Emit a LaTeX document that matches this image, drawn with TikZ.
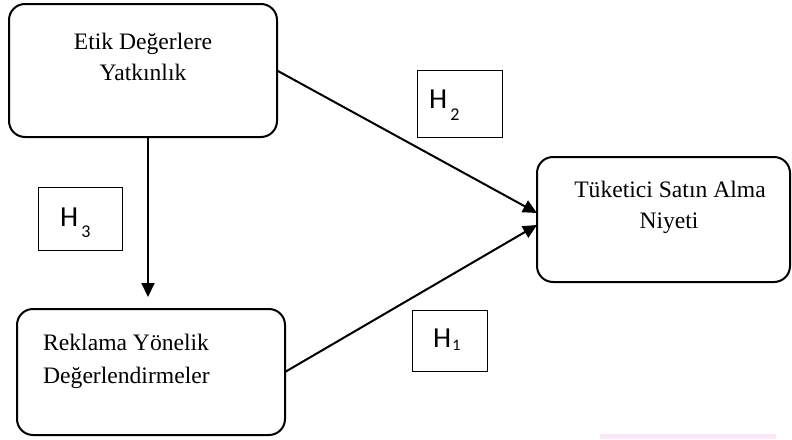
\documentclass[tikz,border=0pt]{standalone}
\usepackage{fontspec}
\setmainfont{Liberation Serif}
\newfontfamily\hfont{Carlito}
\usetikzlibrary{arrows.meta}
\definecolor{pinkbar}{RGB}{252,230,248}
\begin{document}
\begin{tikzpicture}[x=1pt,y=-1pt,
  bigbox/.style={draw,line width=2pt,rounded corners=16pt,minimum width=#1,inner sep=0pt,outer sep=0pt},
  hbox/.style={draw,line width=1pt,inner sep=0pt,outer sep=0pt},
  txt/.style={inner sep=0pt,font=\fontsize{23.6}{31}\selectfont},
  htxt/.style={inner sep=0pt,anchor=base west,font=\hfont\fontsize{29}{29}\selectfont},
  arr/.style={line width=2pt,-{Triangle[length=14pt,width=13pt]}}]
\path[use as bounding box] (0,0) rectangle (792,439);
\fill[pinkbar] (600,434) rectangle (776,439);
% boxes
\node[bigbox=268pt,minimum height=133pt] (A) at (143,70.5) {};
\node[bigbox=268pt,minimum height=126pt] (B) at (151,372) {};
\node[bigbox=253pt,minimum height=125pt] (C) at (663.5,219.5) {};
% texts
\node[txt,anchor=base] (a1) at (143,49) {Etik Değerlere};
\node[txt,anchor=base] (a2) at (143,80) {Yatkınlık};
\node[txt,anchor=base west] (b1) at (43,350) {Reklama Yönelik};
\node[txt,anchor=base west] (b2) at (43,383) {Değerlendirmeler};
\node[txt,anchor=base] (c1) at (670,197) {Tüketici Satın Alma};
\node[txt,anchor=base] (c2) at (669,228) {Niyeti};
% hypothesis boxes
\node[hbox,minimum width=85pt,minimum height=67pt] (H2) at (459.5,103.5) {};
\node[hbox,minimum width=84pt,minimum height=63pt] (H3) at (80,218.5) {};
\node[hbox,minimum width=75pt,minimum height=61pt] (H1) at (449.5,340.5) {};
\node[htxt] (h2t) at (429,108) {H\kern3pt\raisebox{-12pt}{\fontsize{18}{18}\selectfont 2}};
\node[htxt] (h3t) at (60,226) {H\kern3pt\raisebox{-11.5pt}{\fontsize{18}{18}\selectfont 3}};
\node[htxt] (h1t) at (433,347) {H\kern1pt\raisebox{-3.4pt}{\fontsize{16}{16}\selectfont 1}};
% connectors
\draw[arr] (A.east) -- ([yshift=6.5pt]C.west);
\draw[arr] (B.east) -- ([yshift=-5.5pt]C.west);
\draw[arr,shorten >=12pt] ([xshift=5pt]A.south) -- ([xshift=-3pt]B.north);
\end{tikzpicture}
\end{document}
